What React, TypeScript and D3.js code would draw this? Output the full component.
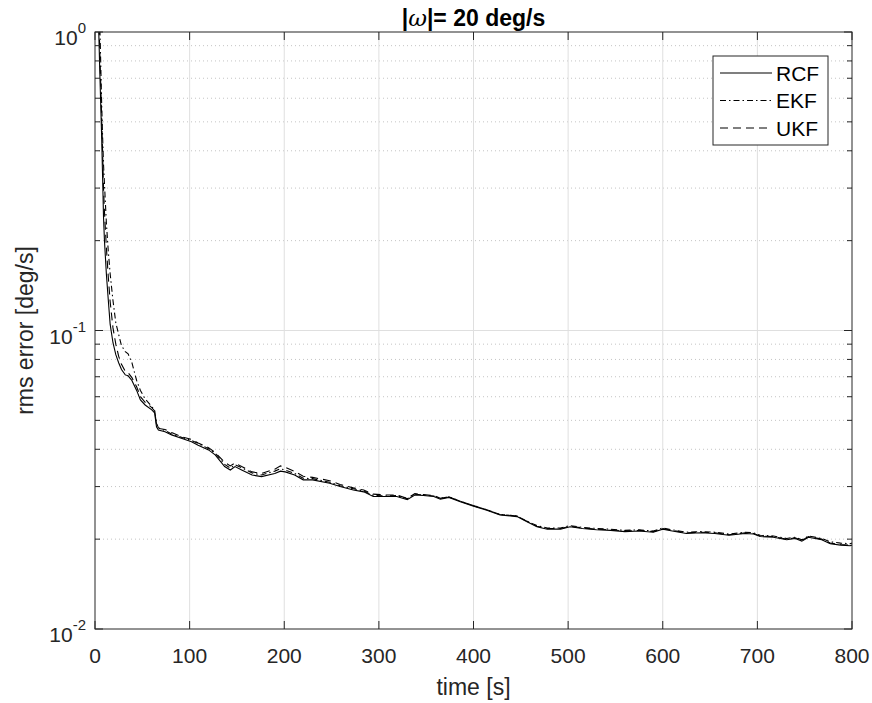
import React, { useEffect, useRef } from 'react';
import * as d3 from 'd3';

// time samples [s]
const times = [2, 4, 5, 6, 7, 8, 9, 10, 12, 14,
  16, 19, 22, 25, 28, 32, 35, 39, 44, 48,
  53, 60, 63, 65, 67, 74, 81, 92, 102, 109,
  120, 127, 137, 143, 148, 155, 166, 176, 190, 196,
  201, 211, 220, 230, 248, 259, 273, 284, 294, 308,
  319, 330, 338, 347, 358, 365, 374, 386, 400, 414,
  428, 446, 456, 467, 478, 492, 502, 515, 530, 545,
  560, 575, 590, 600, 610, 625, 640, 655, 670, 682,
  687, 696, 703, 717, 731, 740, 747, 754, 768, 777,
  788, 798, 800];

const rcf = [1.9, 1.0, 0.75, 0.58, 0.45, 0.33, 0.24, 0.2, 0.155, 0.127,
  0.105, 0.091, 0.083, 0.078, 0.074, 0.071, 0.0705, 0.068, 0.063, 0.0585,
  0.0563, 0.0542, 0.053, 0.0476, 0.0464, 0.0458, 0.0447, 0.0435, 0.0424, 0.0413,
  0.0398, 0.0383, 0.035, 0.0341, 0.035, 0.0341, 0.0328, 0.0324, 0.0332, 0.0338,
  0.0336, 0.0328, 0.0316, 0.0316, 0.0308, 0.030, 0.0292, 0.0288, 0.0278, 0.0278,
  0.0278, 0.0271, 0.0281, 0.028, 0.0278, 0.0272, 0.0276, 0.0267, 0.0258, 0.025,
  0.0241, 0.0238, 0.0229, 0.022, 0.0216, 0.0216, 0.022, 0.0217, 0.0215, 0.0214,
  0.0212, 0.0213, 0.0211, 0.0216, 0.0213, 0.0209, 0.021, 0.0209, 0.0206, 0.0208,
  0.0209, 0.0208, 0.0204, 0.0203, 0.0199, 0.0201, 0.0197, 0.0203, 0.0199, 0.0193,
  0.0191, 0.019, 0.0191];

const ekf = [2.6, 1.4, 1.07, 0.8, 0.58, 0.45, 0.36, 0.31, 0.23, 0.185,
  0.155, 0.126, 0.106, 0.097, 0.089, 0.085, 0.0835, 0.078, 0.068, 0.063,
  0.059, 0.0556, 0.054, 0.049, 0.0472, 0.0462, 0.045, 0.0438, 0.0428, 0.0418,
  0.0402, 0.0388, 0.0356, 0.0346, 0.0355, 0.0347, 0.0333, 0.0328, 0.0338, 0.0344,
  0.0341, 0.0332, 0.032, 0.0319, 0.031, 0.0302, 0.0295, 0.029, 0.028, 0.0279,
  0.028, 0.0273, 0.0283, 0.0281, 0.0279, 0.0274, 0.0277, 0.0268, 0.0259, 0.0251,
  0.0242, 0.0239, 0.023, 0.0222, 0.0218, 0.0218, 0.0222, 0.0219, 0.0217, 0.0216,
  0.0214, 0.0215, 0.0213, 0.0218, 0.0215, 0.0211, 0.0212, 0.0211, 0.0208, 0.021,
  0.0211, 0.021, 0.0206, 0.0205, 0.0201, 0.0203, 0.0199, 0.0205, 0.0201, 0.0196,
  0.0194, 0.0193, 0.0194];

const ukf = [2.1, 1.15, 0.88, 0.68, 0.52, 0.4, 0.3, 0.25, 0.19, 0.152,
  0.125, 0.102, 0.09, 0.082, 0.077, 0.073, 0.0722, 0.0695, 0.0648, 0.06,
  0.0575, 0.0552, 0.0538, 0.0485, 0.047, 0.0466, 0.0455, 0.044, 0.0432, 0.042,
  0.0405, 0.039, 0.0362, 0.0352, 0.036, 0.035, 0.0336, 0.0332, 0.0343, 0.0352,
  0.0348, 0.0337, 0.0325, 0.0322, 0.0314, 0.0305, 0.0297, 0.0292, 0.0283, 0.0281,
  0.0281, 0.0274, 0.0284, 0.0282, 0.028, 0.0274, 0.0277, 0.0268, 0.0259, 0.0251,
  0.0242, 0.0239, 0.023, 0.0221, 0.0217, 0.0217, 0.0221, 0.0218, 0.0216, 0.0215,
  0.0213, 0.0214, 0.0212, 0.0217, 0.0214, 0.021, 0.0211, 0.021, 0.0207, 0.0209,
  0.021, 0.0209, 0.0205, 0.0204, 0.02, 0.0202, 0.0198, 0.0204, 0.02, 0.0194,
  0.0192, 0.0191, 0.0192];

const xTicks = [0, 100, 200, 300, 400, 500, 600, 700, 800];
const yDecades = [-2, -1, 0];
const seriesNames = ['RCF', 'EKF', 'UKF'];
const dashes = ['none', '6,3,1.5,3', '8,5'];

export default function App() {
  const svgRef = useRef<SVGSVGElement>(null);

  useEffect(() => {
    const width = 872;
    const height = 703;
    const m = { left: 95, right: 872 - 852, top: 32, bottom: 703 - 629 };
    const font = 'Liberation Sans, Arial, Helvetica, sans-serif';
    const axisColor = '#262626';

    const svg = d3.select(svgRef.current);
    svg.selectAll('*').remove();
    svg.attr('width', width).attr('height', height);

    const x = d3.scaleLinear().domain([0, 800]).range([m.left, width - m.right]);
    const y = d3.scaleLog().domain([0.01, 1]).range([height - m.bottom, m.top]);
    const x0 = x.range()[0], x1 = x.range()[1];
    const y0 = y.range()[0], y1 = y.range()[1];

    svg.append('rect').attr('width', width).attr('height', height).attr('fill', 'white');

    // minor y grid (dotted)
    const minors: number[] = [];
    [0.01, 0.1].forEach(d => { for (let k = 2; k <= 9; k++) minors.push(d * k); });
    svg.append('g').selectAll('line').data(minors).enter().append('line')
      .attr('x1', x0).attr('x2', x1)
      .attr('y1', d => y(d)).attr('y2', d => y(d))
      .attr('stroke', '#c4c4c4').attr('stroke-width', 1)
      .attr('stroke-dasharray', '1,3');

    // major grid
    const grid = svg.append('g').attr('stroke', '#dfdfdf').attr('stroke-width', 1);
    grid.selectAll('.gx').data(xTicks.slice(1, -1)).enter().append('line')
      .attr('x1', d => x(d)).attr('x2', d => x(d)).attr('y1', y1).attr('y2', y0);
    grid.selectAll('.gy').data([0.1]).enter().append('line')
      .attr('x1', x0).attr('x2', x1).attr('y1', d => y(d)).attr('y2', d => y(d));

    // curves
    svg.append('clipPath').attr('id', 'clip').append('rect')
      .attr('x', x0).attr('y', y1).attr('width', x1 - x0).attr('height', y0 - y1);
    const line = d3.line<number>()
      .x((_, i) => x(times[i]))
      .y(d => y(d));
    const plots = svg.append('g').attr('clip-path', 'url(#clip)');
    [rcf, ekf, ukf].forEach((vals, i) => {
      plots.append('path')
        .attr('d', line(vals))
        .attr('fill', 'none')
        .attr('stroke', 'black')
        .attr('stroke-width', 1.1)
        .attr('stroke-dasharray', dashes[i]);
    });

    // box and ticks
    const ax = svg.append('g').attr('stroke', axisColor).attr('stroke-width', 1);
    ax.append('rect').attr('x', x0).attr('y', y1).attr('width', x1 - x0).attr('height', y0 - y1)
      .attr('fill', 'none');
    xTicks.forEach(t => {
      ax.append('line').attr('x1', x(t)).attr('x2', x(t)).attr('y1', y0).attr('y2', y0 - 8);
      ax.append('line').attr('x1', x(t)).attr('x2', x(t)).attr('y1', y1).attr('y2', y1 + 8);
    });
    yDecades.forEach(e => {
      const yy = y(Math.pow(10, e));
      ax.append('line').attr('x1', x0).attr('x2', x0 + 8).attr('y1', yy).attr('y2', yy);
      ax.append('line').attr('x1', x1).attr('x2', x1 - 8).attr('y1', yy).attr('y2', yy);
    });
    minors.forEach(v => {
      ax.append('line').attr('x1', x0).attr('x2', x0 + 5).attr('y1', y(v)).attr('y2', y(v));
      ax.append('line').attr('x1', x1).attr('x2', x1 - 5).attr('y1', y(v)).attr('y2', y(v));
    });

    // tick labels
    svg.append('g').selectAll('text').data(xTicks).enter().append('text')
      .attr('x', d => x(d)).attr('y', y0 + 34)
      .attr('text-anchor', 'middle')
      .attr('font-family', font).attr('font-size', 21).attr('fill', axisColor)
      .text(d => d);
    yDecades.forEach(e => {
      const t = svg.append('text')
        .attr('x', x0 - 9).attr('y', y(Math.pow(10, e)) + 13)
        .attr('text-anchor', 'end')
        .attr('font-family', font).attr('font-size', 21).attr('fill', axisColor)
        .text('10');
      t.append('tspan').attr('dy', -12).attr('font-size', 15).text(e < 0 ? '-' + Math.abs(e) : String(e));
    });

    // axis labels
    svg.append('text')
      .attr('x', (x0 + x1) / 2).attr('y', 695)
      .attr('text-anchor', 'middle')
      .attr('font-family', font).attr('font-size', 23).attr('fill', axisColor)
      .text('time [s]');
    svg.append('text')
      .attr('transform', `translate(33,${(y0 + y1) / 2}) rotate(-90)`)
      .attr('text-anchor', 'middle')
      .attr('font-family', font).attr('font-size', 23).attr('fill', axisColor)
      .text('rms error [deg/s]');

    // title
    const title = svg.append('text')
      .attr('x', (x0 + x1) / 2).attr('y', 26)
      .attr('text-anchor', 'middle')
      .attr('font-family', font).attr('font-size', 23).attr('font-weight', 'bold')
      .attr('fill', 'black');
    title.append('tspan').text('|');
    title.append('tspan').attr('font-style', 'italic').attr('font-weight', 'normal')
      .attr('font-family', 'DejaVu Serif, serif').text('ω');
    title.append('tspan').text('|= 20 deg/s');

    // legend
    const lg = svg.append('g');
    lg.append('rect').attr('x', 713).attr('y', 56).attr('width', 115).attr('height', 89)
      .attr('fill', 'white').attr('stroke', axisColor).attr('stroke-width', 1);
    seriesNames.forEach((name, i) => {
      const yy = 73 + i * 27.5;
      lg.append('line').attr('x1', 720).attr('x2', 772).attr('y1', yy).attr('y2', yy)
        .attr('stroke', 'black').attr('stroke-width', 1.1).attr('stroke-dasharray', dashes[i]);
      lg.append('text').attr('x', 776).attr('y', yy + 7.5)
        .attr('font-family', font).attr('font-size', 21).attr('fill', 'black')
        .text(name);
    });
  }, []);

  return <svg ref={svgRef} style={{ position: 'absolute', left: 0, top: 0 }}></svg>;
}
